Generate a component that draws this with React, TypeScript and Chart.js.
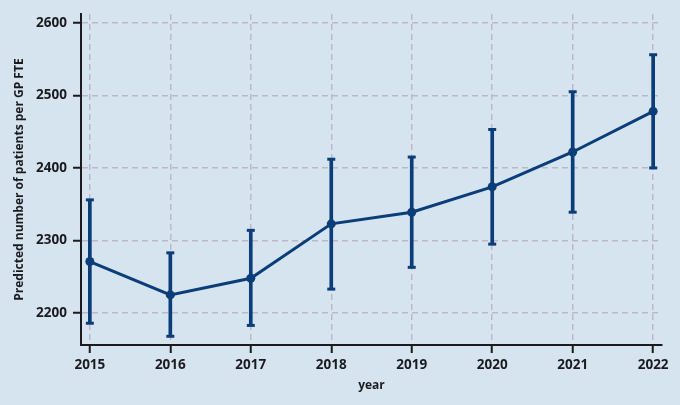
import React, { useRef, useEffect } from "react";
import Chart from "chart.js/auto";

const years = [2015, 2016, 2017, 2018, 2019, 2020, 2021, 2022];
const predicted = [2271, 2225, 2248, 2323, 2339, 2374, 2422, 2478];
const lower = [2186, 2168, 2183, 2233, 2263, 2295, 2339, 2400];
const upper = [2356, 2283, 2314, 2412, 2415, 2453, 2505, 2556];
const yTicks = [2200, 2300, 2400, 2500, 2600];

const NAVY = "#0b3d78";
const INK = "#1b1b1f";
const GRID = "#bcb8c6";
const BG = "#d6e4ef";
const FONT = "'Open Sans', 'DejaVu Sans', sans-serif";

const App = () => {
    const chartRef = useRef<HTMLCanvasElement>(null);

    useEffect(() => {
        document.body.style.margin = "0";
        const ctx = chartRef.current?.getContext("2d");
        if (!ctx) return;

        const myChart = new Chart(ctx, {
            type: "line",
            data: {
                datasets: [
                    {
                        type: "line",
                        label: "Predicted",
                        data: years.map((x, i) => ({ x, y: predicted[i] })),
                        borderColor: NAVY,
                        backgroundColor: NAVY,
                        borderWidth: 3,
                        pointRadius: 4.5,
                        pointBorderWidth: 0,
                        tension: 0,
                        order: 0,
                    },
                    {
                        type: "bar",
                        label: "CI",
                        data: years.map((x, i) => ({ x, y: [lower[i], upper[i]] })) as any,
                        backgroundColor: NAVY,
                        borderWidth: 0,
                        barThickness: 3,
                        order: 1,
                    },
                    {
                        type: "line",
                        label: "upper cap",
                        data: years.map((x, i) => ({ x, y: upper[i] })),
                        showLine: false,
                        pointStyle: "line",
                        pointRadius: 4,
                        pointBorderWidth: 3,
                        borderColor: NAVY,
                        order: 1,
                    },
                    {
                        type: "line",
                        label: "lower cap",
                        data: years.map((x, i) => ({ x, y: lower[i] })),
                        showLine: false,
                        pointStyle: "line",
                        pointRadius: 4,
                        pointBorderWidth: 3,
                        borderColor: NAVY,
                        order: 1,
                    },
                ],
            },
            options: {
                animation: false,
                responsive: true,
                maintainAspectRatio: false,
                layout: { padding: { top: 12, right: 18, left: 0, bottom: 0 } },
                plugins: {
                    legend: { display: false },
                    tooltip: { enabled: false },
                },
                scales: {
                    x: {
                        type: "linear",
                        min: 2014.89,
                        max: 2022.11,
                        offset: false,
                        afterBuildTicks: (axis: any) => {
                            axis.ticks = years.map((v) => ({ value: v }));
                        },
                        afterFit: (axis: any) => {
                            axis.height = 60;
                        },
                        grid: {
                            offset: false,
                            color: GRID,
                            lineWidth: 1.5,
                            drawTicks: true,
                            tickLength: 8,
                            tickColor: INK,
                            tickWidth: 2,
                            tickBorderDash: [],
                        } as any,
                        border: { display: true, color: INK, width: 2, dash: [6, 4] },
                        ticks: {
                            color: INK,
                            padding: 4,
                            maxRotation: 0,
                            callback: (v: any) => String(v),
                            font: { family: FONT, size: 13.5, weight: "bold" },
                        },
                        title: {
                            display: true,
                            text: "year",
                            color: INK,
                            padding: { top: 0, bottom: 12 },
                            font: { family: FONT, size: 12, weight: "bold" },
                        },
                    },
                    y: {
                        type: "linear",
                        min: 2156,
                        max: 2612,
                        afterBuildTicks: (axis: any) => {
                            axis.ticks = yTicks.map((v) => ({ value: v }));
                        },
                        afterFit: (axis: any) => {
                            axis.width = 81;
                        },
                        grid: {
                            color: GRID,
                            lineWidth: 1.5,
                            drawTicks: true,
                            tickLength: 8,
                            tickColor: INK,
                            tickWidth: 2,
                            tickBorderDash: [],
                        } as any,
                        border: { display: true, color: INK, width: 2, dash: [6, 4] },
                        ticks: {
                            color: INK,
                            padding: 6,
                            callback: (v: any) => String(v),
                            font: { family: FONT, size: 13.5, weight: "bold" },
                        },
                        title: {
                            display: true,
                            text: "Predicted number of patients per GP FTE",
                            color: INK,
                            padding: { top: 12, bottom: 0 },
                            font: { family: FONT, size: 12, weight: "bold" },
                        },
                    },
                },
            },
        });

        return () => {
            myChart.destroy();
        };
    }, []);

    return (
        <div style={{ position: "relative", width: 680, height: 405, background: BG }}>
            <canvas ref={chartRef}></canvas>
        </div>
    );
};

export default App;
